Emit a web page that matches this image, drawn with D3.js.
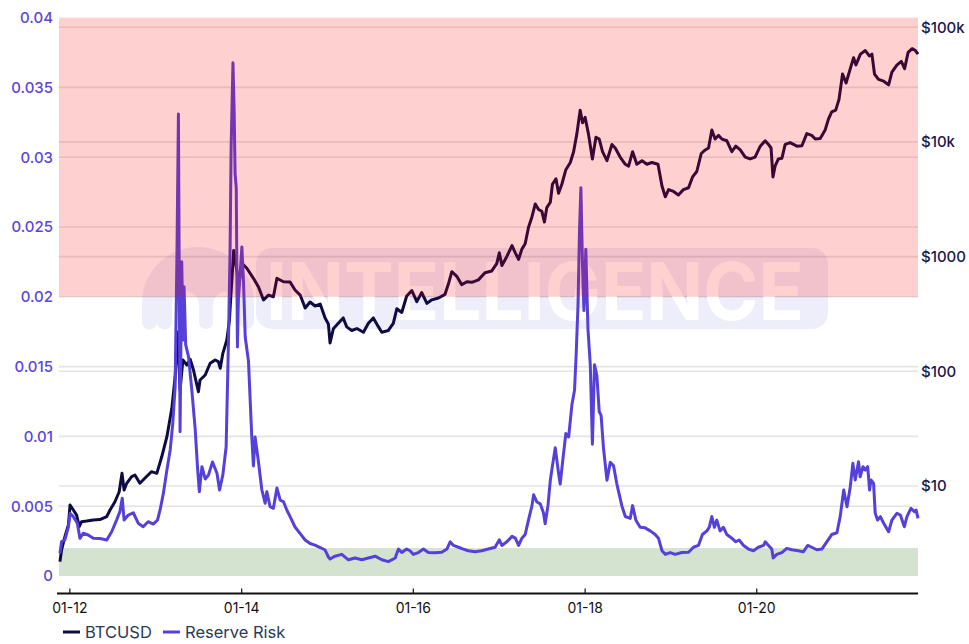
<!DOCTYPE html>
<html><head><meta charset="utf-8">
<script src="https://cdn.jsdelivr.net/npm/d3@7"></script>
<style>body{margin:0;background:#fff;} svg{display:block;font-family:Inter,"Noto Sans",sans-serif;}</style>
</head><body><svg id="chart" width="969" height="644"></svg>
<script>
// ---------------- DATA ----------------
const btcDates = ["2011-11-22","2011-11-29","2011-12-13","2011-12-28","2012-01-04","2012-01-18","2012-02-01","2012-02-12","2012-02-22","2012-03-15","2012-04-12","2012-05-10","2012-06-08","2012-06-22","2012-07-13","2012-07-31","2012-08-12","2012-08-21","2012-09-01","2012-09-22","2012-10-06","2012-10-27","2012-11-17","2012-12-15","2013-01-07","2013-01-28","2013-02-19","2013-03-12","2013-03-26","2013-04-06","2013-04-16","2013-04-28","2013-05-15","2013-05-29","2013-06-12","2013-07-03","2013-07-10","2013-08-01","2013-08-22","2013-09-12","2013-09-26","2013-10-04","2013-10-15","2013-11-01","2013-11-12","2013-11-17","2013-11-30","2013-12-15","2013-12-21","2014-01-04","2014-01-25","2014-02-22","2014-03-15","2014-04-06","2014-04-27","2014-05-18","2014-06-02","2014-06-30","2014-07-28","2014-08-18","2014-09-09","2014-09-30","2014-10-21","2014-11-11","2014-12-03","2014-12-24","2015-01-07","2015-01-14","2015-01-28","2015-02-18","2015-03-11","2015-03-26","2015-04-16","2015-05-08","2015-06-05","2015-06-26","2015-07-17","2015-08-08","2015-08-22","2015-09-19","2015-10-10","2015-10-25","2015-11-15","2015-12-06","2015-12-28","2016-01-18","2016-02-08","2016-03-01","2016-03-22","2016-04-19","2016-05-17","2016-06-01","2016-06-15","2016-07-06","2016-07-27","2016-08-18","2016-09-08","2016-10-06","2016-11-03","2016-12-02","2016-12-23","2017-01-03","2017-01-14","2017-02-04","2017-02-26","2017-03-12","2017-03-26","2017-04-09","2017-04-23","2017-05-07","2017-05-22","2017-06-05","2017-06-19","2017-07-03","2017-07-14","2017-07-24","2017-08-08","2017-08-17","2017-09-01","2017-09-12","2017-09-26","2017-10-13","2017-11-01","2017-11-15","2017-11-29","2017-12-13","2017-12-23","2018-01-03","2018-01-17","2018-02-03","2018-02-18","2018-03-04","2018-03-18","2018-04-06","2018-04-27","2018-05-11","2018-06-01","2018-06-23","2018-07-07","2018-07-24","2018-08-11","2018-09-02","2018-09-23","2018-10-14","2018-11-09","2018-11-26","2018-12-10","2018-12-24","2019-01-14","2019-02-04","2019-02-25","2019-03-19","2019-04-05","2019-04-23","2019-05-12","2019-05-29","2019-06-12","2019-06-26","2019-07-10","2019-07-24","2019-08-08","2019-08-29","2019-09-19","2019-10-06","2019-10-25","2019-11-15","2019-12-06","2019-12-27","2020-01-18","2020-02-08","2020-02-22","2020-03-04","2020-03-12","2020-03-21","2020-04-04","2020-04-19","2020-05-03","2020-05-24","2020-06-22","2020-07-13","2020-08-03","2020-08-24","2020-09-08","2020-09-29","2020-10-20","2020-11-03","2020-11-17","2020-12-04","2020-12-18","2021-01-02","2021-01-17","2021-02-04","2021-02-18","2021-02-28","2021-03-19","2021-04-09","2021-04-26","2021-05-07","2021-05-18","2021-06-04","2021-06-26","2021-07-17","2021-07-31","2021-08-21","2021-09-09","2021-09-23","2021-10-08","2021-10-25","2021-11-08","2021-11-19"];
const btcPrice = [2.19,2.77,3.61,4.57,6.83,6.18,5.58,4.42,4.89,4.95,5.06,5.1,5.4,6.18,7.29,8.91,12.9,9.23,10.56,12.06,12.47,10.56,11.67,13.33,12.9,17.99,26.9,47.6,89.7,220,68.7,125.6,113.6,127.4,102.6,66.4,84,92.8,117.5,125.6,121.3,106.2,143.5,187.5,280,418.6,1130,715,547,875,791,647,547,419,462,447,647,604,600,512,462,356,402,371,386,292,258,176.5,235,262,292,244,227,236,219,262,292,244,219,227,262,351,326,453,505,405,486,391,420,436,469,582,739,673,570,604,597,627,724,750,869,1079,838,1004,1248,1079,946,1162,1295,1795,2229,2876,2576,2483,2000,2675,2979,4276,4775,3572,4276,5728,6613,8217,11810,18920,14680,16380,11810,7110,10990,10590,8217,6860,9500,8850,7380,6385,6155,8217,6385,6860,6385,6613,6385,4130,3321,3837,3700,3443,3837,3982,4955,5522,7925,8515,8850,12710,10590,11400,10590,10230,8217,9180,8515,7380,7110,7380,9180,10230,9500,8850,4955,6155,7110,7200,9500,9860,9180,9250,11810,11400,10590,10700,12710,15810,18270,18920,23500,39080,32620,43550,54200,46790,58220,62620,56200,58220,39080,35080,33830,31470,40530,46790,50350,43550,60390,65010,62620,58220];

const rrDates = ["2011-11-22","2011-11-29","2011-12-13","2011-12-28","2012-01-04","2012-01-18","2012-02-04","2012-02-15","2012-02-29","2012-03-21","2012-04-12","2012-05-10","2012-06-08","2012-06-29","2012-07-20","2012-08-03","2012-08-13","2012-08-21","2012-09-08","2012-09-29","2012-10-20","2012-11-10","2012-12-01","2012-12-23","2013-01-10","2013-01-21","2013-02-04","2013-02-19","2013-03-05","2013-03-16","2013-03-26","2013-04-03","2013-04-09","2013-04-13","2013-04-16","2013-04-23","2013-04-29","2013-05-03","2013-05-10","2013-05-22","2013-06-05","2013-06-19","2013-06-29","2013-07-07","2013-07-18","2013-08-01","2013-08-15","2013-09-01","2013-09-20","2013-10-01","2013-10-15","2013-10-29","2013-11-08","2013-11-15","2013-11-19","2013-11-27","2013-12-02","2013-12-06","2013-12-11","2013-12-16","2013-12-20","2014-01-04","2014-01-11","2014-01-18","2014-02-01","2014-02-15","2014-02-22","2014-03-01","2014-03-15","2014-03-30","2014-04-13","2014-04-20","2014-05-04","2014-05-18","2014-06-02","2014-06-16","2014-06-30","2014-07-14","2014-07-28","2014-08-18","2014-09-09","2014-09-30","2014-10-21","2014-11-11","2014-12-03","2014-12-24","2015-01-07","2015-01-14","2015-02-04","2015-03-05","2015-04-02","2015-04-30","2015-05-29","2015-06-26","2015-07-25","2015-08-22","2015-09-19","2015-10-18","2015-11-01","2015-11-15","2015-12-06","2015-12-20","2016-01-03","2016-01-25","2016-02-15","2016-03-07","2016-04-05","2016-05-03","2016-05-25","2016-06-08","2016-06-22","2016-07-13","2016-08-03","2016-08-24","2016-09-22","2016-10-20","2016-11-17","2016-12-16","2017-01-03","2017-01-14","2017-02-04","2017-02-26","2017-03-12","2017-03-26","2017-04-09","2017-04-23","2017-05-07","2017-05-22","2017-05-29","2017-06-12","2017-06-26","2017-07-10","2017-07-17","2017-07-29","2017-08-08","2017-08-17","2017-08-29","2017-09-12","2017-09-19","2017-09-29","2017-10-13","2017-10-25","2017-11-08","2017-11-19","2017-11-26","2017-12-04","2017-12-10","2017-12-16","2017-12-23","2017-12-29","2018-01-06","2018-01-15","2018-01-25","2018-02-03","2018-02-12","2018-02-22","2018-03-04","2018-03-12","2018-03-22","2018-04-06","2018-04-20","2018-05-04","2018-05-18","2018-06-01","2018-06-08","2018-06-23","2018-07-14","2018-07-24","2018-08-07","2018-08-25","2018-09-15","2018-10-07","2018-10-28","2018-11-11","2018-11-26","2018-12-10","2018-12-31","2019-01-21","2019-02-18","2019-03-19","2019-04-09","2019-04-30","2019-05-17","2019-06-05","2019-06-15","2019-06-26","2019-07-07","2019-07-17","2019-07-31","2019-08-14","2019-08-29","2019-09-19","2019-10-06","2019-10-20","2019-11-08","2019-11-29","2019-12-20","2020-01-10","2020-02-01","2020-02-08","2020-02-22","2020-03-07","2020-03-13","2020-03-28","2020-04-19","2020-05-10","2020-05-31","2020-06-28","2020-07-19","2020-08-07","2020-08-24","2020-09-14","2020-10-06","2020-10-27","2020-11-17","2020-12-09","2020-12-23","2021-01-07","2021-01-21","2021-02-04","2021-02-15","2021-02-25","2021-03-11","2021-03-18","2021-03-30","2021-04-09","2021-04-19","2021-04-27","2021-05-03","2021-05-14","2021-05-21","2021-05-31","2021-06-12","2021-06-26","2021-07-17","2021-07-31","2021-08-21","2021-09-05","2021-09-22","2021-10-03","2021-10-20","2021-11-04","2021-11-11","2021-11-19"];
const rrValue = [0.00163,0.00246,0.00258,0.00353,0.00449,0.00425,0.00378,0.0027,0.00306,0.00294,0.0027,0.00268,0.00258,0.00317,0.00401,0.00461,0.00557,0.00401,0.00437,0.00453,0.00378,0.00353,0.00389,0.00372,0.00401,0.00473,0.00592,0.00759,0.00903,0.01094,0.01356,0.02335,0.03309,0.01977,0.01034,0.02251,0.01691,0.02072,0.01655,0.01571,0.01332,0.0106,0.00783,0.00604,0.00783,0.00695,0.00724,0.00817,0.00736,0.00616,0.00724,0.00926,0.01694,0.02371,0.03052,0.03677,0.03338,0.02885,0.02777,0.0164,0.01977,0.02357,0.02097,0.01714,0.01539,0.00998,0.00788,0.00996,0.00824,0.00616,0.00521,0.00604,0.00496,0.00485,0.0063,0.00544,0.00532,0.00473,0.00425,0.00351,0.00304,0.00258,0.00233,0.00221,0.00204,0.00186,0.00136,0.00122,0.00142,0.00155,0.00116,0.00129,0.00116,0.00129,0.00142,0.00116,0.00103,0.00129,0.00193,0.00168,0.00193,0.00181,0.00155,0.00168,0.00193,0.00168,0.00166,0.0017,0.00193,0.00245,0.00219,0.00206,0.00193,0.00181,0.00173,0.00181,0.00193,0.00206,0.00259,0.00219,0.00245,0.00284,0.00271,0.00219,0.00271,0.00297,0.004,0.00504,0.00582,0.0053,0.00517,0.00452,0.00375,0.00504,0.00686,0.00789,0.00918,0.00737,0.00659,0.00814,0.01021,0.00996,0.01229,0.01332,0.0159,0.01953,0.02471,0.02781,0.02212,0.01901,0.02341,0.01772,0.01513,0.00944,0.01513,0.01436,0.01177,0.01151,0.00918,0.00686,0.00814,0.00789,0.00659,0.00556,0.00504,0.00426,0.00413,0.00504,0.004,0.00349,0.00345,0.00323,0.00297,0.00271,0.00181,0.00155,0.00168,0.00155,0.00168,0.0017,0.00206,0.00219,0.00297,0.00323,0.00349,0.00426,0.00349,0.004,0.00323,0.00349,0.00297,0.00271,0.00245,0.00258,0.00219,0.00193,0.00181,0.00206,0.00219,0.00245,0.00219,0.00193,0.00129,0.00155,0.00168,0.00198,0.00188,0.00181,0.00173,0.00219,0.00206,0.00188,0.00193,0.00245,0.00297,0.0031,0.00425,0.00616,0.00496,0.0064,0.00807,0.00688,0.00819,0.00711,0.00783,0.00759,0.00783,0.00616,0.00688,0.00664,0.00449,0.00401,0.00425,0.00378,0.00317,0.00401,0.00449,0.00437,0.00353,0.00425,0.00485,0.00461,0.00473,0.00413];

const leftTicks = [0,0.005,0.01,0.015,0.02,0.025,0.03,0.035,0.04];
const leftTickLabels = ["0","0.005","0.01","0.015","0.02","0.025","0.03","0.035","0.04"];
const rightTicks = [10,100,1000,10000,100000];
const rightTickLabels = ["$10","$100","$1000","$10k","$100k"];
const xTickDates = ["2012-01-01","2014-01-01","2016-01-01","2018-01-01","2020-01-01"];
const redZone = [0.02,0.04];
const greenZone = [0,0.002];
const seriesNames = ["BTCUSD","Reserve Risk"];
const watermarkText = "INTELLIGENCE";

// ---------------- CHART ----------------
const svg = d3.select("#chart");
const L = 59, R = 918, T = 17.6, B = 576;
const parse = d3.utcParse("%Y-%m-%d");
const x = d3.scaleUtc().domain([parse("2011-11-18"), parse("2021-11-19")]).range([L, R]);
const yL = d3.scaleLinear().domain([0, 0.04]).range([B, T]);
const yR = d3.scaleLog().domain([1.642, 121300]).range([B, T]);

const btc = btcDates.map((d,i)=>({d:parse(d), v:btcPrice[i]}));
const rr = rrDates.map((d,i)=>({d:parse(d), v:rrValue[i]}));

const cBTC = "#0e0b42", cRR = "#5541d9";

// gridlines
const grid = svg.append("g");
grid.selectAll("line.gl").data(leftTicks.filter(t=>t>0 && t<0.04)).join("line")
  .attr("x1", L).attr("x2", R).attr("y1", d=>yL(d)).attr("y2", d=>yL(d))
  .attr("stroke", "#e4e4e4").attr("stroke-width", 1.6);
grid.selectAll("line.gr").data(rightTicks).join("line")
  .attr("x1", L).attr("x2", R).attr("y1", d=>yR(d)).attr("y2", d=>yR(d))
  .attr("stroke", "#e4e4e4").attr("stroke-width", 1.6);

// watermark
const wm = svg.append("g");
wm.append("rect").attr("x", 256).attr("y", 248).attr("width", 572).attr("height", 81).attr("rx", 16)
  .attr("fill", "#5a5ad2").attr("fill-opacity", 0.1);
const lg = d3.path();
lg.moveTo(142, 322); lg.lineTo(142, 303); lg.arc(198, 303, 56, Math.PI, 0); lg.lineTo(254, 322);
lg.arc(247, 322, 7, 0, Math.PI); lg.lineTo(240, 305); lg.arc(226.5, 305, 13.5, 0, Math.PI, true);
lg.lineTo(213, 322); lg.arc(206, 322, 7, 0, Math.PI); lg.lineTo(199, 305); lg.arc(185.5, 305, 13.5, 0, Math.PI, true);
lg.lineTo(172, 322); lg.arc(164.5, 322, 7.5, 0, Math.PI); lg.lineTo(157, 303);
lg.lineTo(157,322); lg.arc(149.5, 322, 7.5, 0, Math.PI); lg.closePath();
wm.append("path").attr("d", lg.toString()).attr("fill", "#5a5ad2").attr("fill-opacity", 0.1);
wm.append("text").attr("x", 266).attr("y", 320).attr("textLength", 538).attr("lengthAdjust", "spacingAndGlyphs")
  .attr("font-size", 80).attr("font-weight", 700).attr("fill", "#ffffff").text(watermarkText);

// green zone
svg.append("rect").attr("x", L).attr("width", R-L)
  .attr("y", yL(greenZone[1])).attr("height", yL(greenZone[0]) - yL(greenZone[1]))
  .attr("fill", "#d4e3cf");

// lines
const lineB = d3.line().x(d=>x(d.d)).y(d=>yR(d.v));
const lineR = d3.line().x(d=>x(d.d)).y(d=>yL(d.v));
svg.append("path").datum(btc).attr("d", lineB).attr("fill","none").attr("stroke", cBTC)
  .attr("stroke-width", 3).attr("stroke-linejoin","round");
svg.append("path").datum(rr).attr("d", lineR).attr("fill","none").attr("stroke", cRR)
  .attr("stroke-width", 3).attr("stroke-linejoin","round");

// red zone overlay
svg.append("rect").attr("x", L).attr("width", R-L)
  .attr("y", yL(redZone[1])).attr("height", yL(redZone[0]) - yL(redZone[1]))
  .attr("fill", "rgb(255,0,0)").attr("fill-opacity", 0.185);

// left axis labels
svg.append("g").selectAll("text").data(leftTicks).join("text")
  .attr("x", 53).attr("y", d=>yL(d)).attr("dy", "0.36em").attr("text-anchor","end")
  .attr("font-size", 15).attr("font-weight", 500).attr("fill", "#5b45e0").text((d,i)=>leftTickLabels[i]);
// right axis labels
svg.append("g").selectAll("text").data(rightTicks).join("text")
  .attr("x", 921).attr("y", d=>yR(d)).attr("dy", "0.36em").attr("text-anchor","start")
  .attr("font-size", 15).attr("font-weight", 500).attr("fill", "#1b1848").text((d,i)=>rightTickLabels[i]);

// x axis
const xAxis = d3.axisBottom(x).tickValues(xTickDates.map(parse)).tickFormat(d3.utcFormat("%m-%y"))
  .tickSize(-5).tickPadding(10);
const gx = svg.append("g").attr("transform", "translate(0,593.5)").call(xAxis);
gx.select(".domain").attr("d", `M57,0H${R}`).attr("stroke", "#111").attr("stroke-width", 1.8);
gx.selectAll(".tick line").attr("stroke", "#111").attr("stroke-width", 1.2);
gx.selectAll(".tick text").attr("font-size", 14).attr("fill", "#111").attr("font-family", "Inter,sans-serif");

// legend
const lgd = svg.append("g");
const legendItems = [{n:seriesNames[0], c:cBTC, x:63}, {n:seriesNames[1], c:cRR, x:163}];
legendItems.forEach(it=>{
  lgd.append("line").attr("x1", it.x).attr("x2", it.x+17).attr("y1", 632).attr("y2", 632)
    .attr("stroke", it.c).attr("stroke-width", 3);
  lgd.append("text").attr("x", it.x+22).attr("y", 632).attr("dy", "0.36em")
    .attr("font-size", 16.5).attr("fill", "#2b3a58").text(it.n);
});
</script></body></html>
